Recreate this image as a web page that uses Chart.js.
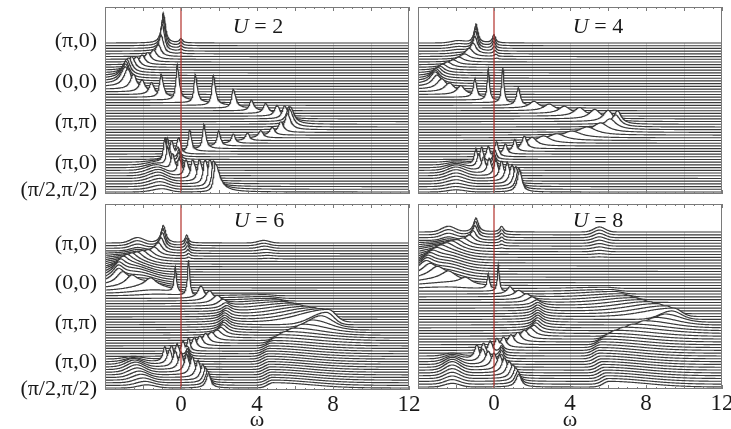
<!DOCTYPE html>
<html>
<head>
<meta charset="utf-8">
<title>Spectral function A(k,ω) along (π,0)–(0,0)–(π,π)–(π,0)–(π/2,π/2)</title>
<script src="https://cdn.jsdelivr.net/npm/chart.js@4.4.1/dist/chart.umd.min.js"></script>
<style>
  html, body { margin: 0; padding: 0; background: #fff; }
  body { width: 731px; height: 429px; position: relative; overflow: hidden; }
  canvas { position: absolute; }
  .ulab { position: absolute; font-family: "Liberation Serif", "DejaVu Serif", serif; font-size: 22px;
          color: #1a1a1a; transform: translate(-50%, -50%); white-space: nowrap; }
  .ulab i { font-style: italic; }
  .wlab { position: absolute; font-family: "Liberation Serif", "DejaVu Serif", serif; font-size: 22px;
          color: #1a1a1a; transform: translate(-50%, -50%); }
</style>
</head>
<body>
<canvas id="cU2" width="425" height="212" style="left:0;top:0"></canvas>
<canvas id="cU4" width="319" height="212" style="left:412px;top:0"></canvas>
<canvas id="cU6" width="425" height="229" style="left:0;top:200px"></canvas>
<canvas id="cU8" width="319" height="229" style="left:412px;top:200px"></canvas>
<div class="ulab" style="left:258px;top:26px"><i>U</i> = 2</div>
<div class="ulab" style="left:598px;top:26px"><i>U</i> = 4</div>
<div class="ulab" style="left:259px;top:220px"><i>U</i> = 6</div>
<div class="ulab" style="left:598px;top:220px"><i>U</i> = 8</div>
<div class="wlab" style="left:257px;top:419px">ω</div>
<div class="wlab" style="left:570px;top:419px">ω</div>
<script>
// ---- axes and k-path ----
const omegaMin = -4, omegaMax = 12;
const xTickValues = [0, 4, 8, 12];
const gridValues = [-2, 0, 2, 4, 6, 8, 10];
const kLabels = ['(π,0)', '(0,0)', '(π,π)', '(π,0)', '(π/2,π/2)'];
const kIndex = [0, 15, 30, 45, 55];
const nCurves = 56;          // spectra along the path, top to bottom

// ---- U = 2 : peak positions (ω), heights (in curve spacings), left / right half widths ----
const U2_A_pos = [-0.93,-0.93,-0.95,-0.98,-1.05,-1.2,-1.45,-1.75,-2.05,-2.35,-2.6,-2.75,-2.85,-2.9,-2.92,-2.93,
  -2.8,-2.5,-2.05,-1.55,-1.05,-0.2,0.75,1.7,2.75,3.7,4.45,5.05,5.45,5.68,5.75,
  5.72,5.6,5.25,4.8,4.2,3.5,2.76,1.98,1.2,0.45,-0.1,-0.5,-0.72,-0.82,-0.85,
  -0.7,-0.45,-0.1,0.25,0.6,0.95,1.25,1.5,1.7,1.8];
const U2_A_amp = [11.2,11.2,11,10,7,4.5,3.5,3.5,3.6,4,5,5.5,6,6.2,6.3,6.3,
  6.5,5.5,4.5,4.5,8.5,13,10.5,11,7,4,3.7,4,4.8,5.5,6.5,
  6.5,6,4,3,2.7,2.8,3.5,5.5,9,8,5,6,8,9,9,
  7,6,5.5,6,7,8,9,10,10.5,10.5];
const U2_A_wl = [0.12,0.12,0.12,0.13,0.15,0.18,0.2,0.2,0.2,0.22,0.22,0.24,0.26,0.28,0.28,0.28,
  0.25,0.2,0.18,0.15,0.1,0.08,0.08,0.09,0.1,0.12,0.15,0.15,0.15,0.15,0.15,
  0.15,0.15,0.15,0.15,0.15,0.13,0.12,0.1,0.08,0.08,0.1,0.1,0.1,0.1,0.1,
  0.1,0.1,0.1,0.1,0.1,0.1,0.1,0.1,0.1,0.1];
const U2_A_wr = [0.12,0.12,0.12,0.13,0.15,0.18,0.2,0.2,0.2,0.22,0.22,0.22,0.22,0.22,0.22,0.22,
  0.22,0.2,0.18,0.16,0.14,0.12,0.12,0.13,0.15,0.16,0.18,0.18,0.2,0.22,0.24,
  0.22,0.2,0.18,0.16,0.15,0.13,0.12,0.12,0.12,0.12,0.12,0.12,0.12,0.12,0.12,
  0.14,0.15,0.16,0.18,0.2,0.22,0.24,0.26,0.28,0.3];
const U2_B1_pos = [0, 0, 0, 0, 0];
const U2_B1_amp = [1.5, 1.3, 1, 0.7, 0.4];
const U2_B2_pos = [-0.2, -0.15, -0.1, -0.1, -0.05, 0, 0.05];
const U2_B2_amp = [2, 3, 3.5, 3.5, 3, 2, 1];
const U2_C2_pos = [-1.3, -1.3, -1.3, -1.3, -1.25, -1.2, -1.2, -1.15, -1.1, -1.1, -1.05, -1.0];
const U2_C2_amp = [0.5, 1, 1.5, 2, 2.2, 2.3, 2.3, 2.2, 2, 1.8, 1.5, 1.2];

// ---- U = 4 ----
const U4_A_pos = [-0.95,-0.95,-0.97,-1.0,-1.1,-1.3,-1.55,-1.85,-2.15,-2.45,-2.7,-2.85,-2.95,-3.05,-3.1,-3.1,
  -3.0,-2.75,-2.35,-1.75,-1.0,-0.3,0.46,1.28,2.1,2.9,3.7,4.5,5.3,6.0,6.5,
  6.4,6.1,5.6,4.9,4.1,3.3,2.6,2.0,1.6,1.1,0.6,0.15,-0.3,-0.65,-0.95,
  -0.8,-0.55,-0.25,0.1,0.4,0.7,0.95,1.15,1.3,1.35];
const U4_A_amp = [7,7,6.5,5.5,4,3,2,1.8,1.8,2,2.2,2.5,3,3.5,4,4.4,
  4.2,3.8,3.3,3.3,7,11.5,13,6.5,2.5,2.5,2.7,3.2,3.5,4.2,5,
  4.5,4,3.5,3,2.5,2.5,2.7,3.2,4.7,4.4,3.9,3.9,4.7,5.7,6.1,
  5,5,5.5,5.8,6.5,7,7.2,7.4,7.8,8];
const U4_A_wid = [0.12,0.12,0.13,0.15,0.2,0.25,0.3,0.3,0.3,0.3,0.3,0.3,0.3,0.3,0.3,0.3,
  0.3,0.3,0.3,0.25,0.1,0.07,0.07,0.12,0.3,0.35,0.35,0.35,0.35,0.3,0.25,
  0.3,0.4,0.5,0.6,0.6,0.55,0.45,0.3,0.15,0.12,0.12,0.12,0.12,0.1,0.1,
  0.12,0.12,0.12,0.13,0.13,0.14,0.15,0.15,0.15,0.15];
const U4_B1_pos = [0, 0, 0, 0.02, 0.05, 0.1, 0.15];
const U4_B1_amp = [3, 2.8, 2.4, 1.8, 1.2, 0.8, 0.4];
const U4_B2_pos = [0.1, 0.05, 0, 0, 0.05, 0.1, 0.2];
const U4_B2_amp = [2, 3, 3.5, 3.5, 3, 2, 1];
const U4_C1_pos = [-1.9, -1.9, -1.9, -1.9, -1.9, -1.9];
const U4_C1_amp = [0.8, 0.7, 0.6, 0.5, 0.3, 0.2];
const U4_C2_pos = [-2, -2, -2, -2, -2, -2, -2, -2, -2, -2, -2, -2];
const U4_C2_amp = [0.5, 1, 1.5, 2, 2.2, 2.2, 2, 1.8, 1.5, 1.2, 1, 0.8];

// ---- U = 6 ----
const U6_A_pos = [-0.93,-0.95,-0.98,-1.05,-1.2,-1.4,-1.7,-2.0,-2.3,-2.6,-2.85,-3.05,-3.2,-3.28,-3.3,-3.3,
  -3.1,-2.6,-1.6,-0.3,0.4,1.05,1.5,1.9,2.2,2.35,2.4,2.4,2.35,2.3,2.3,
  2.3,2.3,2.25,2.2,2.1,1.9,1.6,1.3,1.0,0.7,0.4,0.1,-0.2,-0.5,-0.85,
  -0.6,-0.3,0.0,0.3,0.6,0.9,1.15,1.3,1.4,1.45];
const U6_A_amp = [6.7,6.5,6,5,4,3,2.5,2.5,2.5,2.7,3,3.3,3.6,3.8,4,4,
  3.8,3.3,3,9.5,13.5,4.7,3.8,3,2.5,2.2,2.2,2.3,2.4,2.5,2.6,
  2.7,2.8,2.9,3,3,3,3.2,3.7,3.8,4.2,5,4.6,4.8,5.2,5.7,
  5.5,6,6.5,6.8,7,6.5,6,5.6,5.5,5.5];
const U6_A_wid = [0.15,0.15,0.17,0.2,0.25,0.3,0.35,0.35,0.35,0.35,0.35,0.35,0.35,0.35,0.35,0.35,
  0.35,0.35,0.35,0.07,0.07,0.2,0.25,0.3,0.3,0.3,0.3,0.3,0.3,0.3,0.3,
  0.3,0.3,0.3,0.3,0.3,0.3,0.25,0.2,0.18,0.15,0.1,0.12,0.12,0.12,0.12,
  0.15,0.15,0.15,0.15,0.15,0.15,0.15,0.15,0.15,0.15];
const U6_B1_pos = [0.3, 0.3, 0.32, 0.35, 0.37, 0.4, 0.4];
const U6_B1_amp = [2.9, 2.7, 2.4, 2, 1.5, 1, 0.6];
const U6_B2_pos = [0.35, 0.35, 0.35, 0.35, 0.35, 0.35, 0.35];
const U6_B2_amp = [2, 3, 4, 4, 3.5, 2.5, 1.5];
const U6_C1_pos = [-2.3, -2.3, -2.3, -2.3, -2.3, -2.3, -2.3];
const U6_C1_amp = [2, 1.8, 1.5, 1.2, 0.9, 0.6, 0.3];
const U6_C2_pos = [-2.5, -2.5, -2.5, -2.45, -2.4, -2.35, -2.3, -2.2, -2.1, -2.0, -1.9, -1.8];
const U6_C2_amp = [1, 1.5, 2.2, 2.6, 2.8, 2.8, 2.6, 2.4, 2.2, 1.8, 1.5, 1.2];
const U6_D_pos = [-2.4,-2.4,-2.5,-2.5,-2.6,-2.6,-2.6,-2.6,-2.5,-2.4,-2.3,-2.2,-2.0,-1.8,-1.6,-1.4,-1.2];
const U6_D_amp = [0.5,1,1.5,2,2.3,2.6,2.8,3,3,3,2.8,2.6,2.4,2.2,1.8,1.2,0.6];
const U6_H1_pos = [4.35, 4.35, 4.4, 4.45, 4.5, 4.55, 4.6];
const U6_H1_amp = [1, 0.9, 0.8, 0.6, 0.4, 0.3, 0.2];
const U6_H2_pos = [4.4,4.6,4.8,5.1,5.4,5.8,6.2,6.6,7.0,7.4,7.75,
  7.65,7.35,6.9,6.4,5.9,5.5,5.2,5.0,4.85,4.75,4.7,4.65,4.6,4.6,4.6,
  4.62,4.65,4.68,4.7,4.72,4.75,4.78,4.8,4.82,4.85];
const U6_H2_amp = [0.4,0.7,1.0,1.4,1.8,2.2,2.6,3.0,3.5,4.1,4.8,
  4.7,4.4,3.8,3.2,2.7,2.4,2.2,2.1,2.0,2.0,2.0,2.0,2.0,2.0,2.0,
  2,2,2,2,2,2,2,2,2,2];
const U6_H2_wl = [1.5,1.5,1.5,1.5,1.5,1.5,1.5,1.5,1.5,1.5,1.5,
  0.8,0.6,0.5,0.4,0.35,0.3,0.3,0.3,0.3,0.3,0.3,0.3,0.3,0.3,0.3,
  0.3,0.3,0.3,0.3,0.3,0.3,0.3,0.3,0.3,0.3];
const U6_H2_wr = [0.4,0.4,0.4,0.4,0.4,0.4,0.4,0.4,0.4,0.4,0.4,
  0.4,0.6,0.9,1.2,1.5,1.8,2,2,2,2,2,2,2,2,2,
  2,2,2,2,2,2,2,2,2,2];

// ---- U = 8 ----
const U8_A_pos = [-0.95,-0.97,-1.0,-1.1,-1.3,-1.6,-1.9,-2.2,-2.5,-2.8,-3.05,-3.25,-3.4,-3.5,-3.55,-3.6,
  -3.4,-3.0,-2.4,-1.5,-0.3,0.23,0.84,1.3,1.7,2.0,2.25,2.3,2.3,2.3,2.3,
  2.3,2.3,2.3,2.25,2.2,2.1,1.9,1.6,1.25,0.9,0.5,0.15,-0.2,-0.55,-0.9,
  -0.6,-0.3,0,0.3,0.55,0.8,1.0,1.15,1.25,1.3];
const U8_A_amp = [5,4.8,4.3,3.5,2.8,2.3,2,2,2,2.1,2.3,2.5,2.8,3,3.2,3.3,
  3.2,3,2.7,2.5,5.3,9.4,2.6,2.3,2.1,2,1.9,2,2.1,2.2,2.3,
  2.4,2.5,2.6,2.7,2.8,2.9,3,3.2,3.4,3.6,3.8,4,4.3,4.6,5,
  4.5,4.7,5,5.2,5.3,5.2,5,4.8,4.6,4.5];
const U8_A_wid = [0.15,0.15,0.17,0.2,0.3,0.4,0.45,0.45,0.45,0.45,0.45,0.45,0.45,0.45,0.45,0.45,
  0.45,0.45,0.45,0.4,0.07,0.06,0.2,0.3,0.3,0.3,0.3,0.3,0.3,0.3,0.3,
  0.3,0.3,0.3,0.3,0.3,0.3,0.3,0.25,0.22,0.2,0.18,0.15,0.15,0.15,0.15,
  0.18,0.18,0.18,0.18,0.18,0.18,0.18,0.18,0.18,0.18];
const U8_B1_pos = [0.4, 0.4, 0.4, 0.4, 0.4, 0.4, 0.4];
const U8_B1_amp = [2, 1.8, 1.5, 1.2, 0.9, 0.6, 0.3];
const U8_B2_pos = [0.4, 0.4, 0.4, 0.4, 0.4, 0.4, 0.4];
const U8_B2_amp = [1.5, 2.5, 3, 3, 2.5, 1.8, 1];
const U8_C1_pos = [-2.4, -2.4, -2.4, -2.4, -2.4, -2.4, -2.4];
const U8_C1_amp = [2, 1.8, 1.5, 1.2, 0.9, 0.6, 0.3];
const U8_C2_pos = [-2.2, -2.2, -2.2, -2.2, -2.2, -2.2, -2.2, -2.2, -2.2, -2.2, -2.2, -2.2];
const U8_C2_amp = [1, 1.5, 2, 2.5, 2.8, 3, 2.8, 2.5, 2.2, 1.9, 1.6, 1.3];
const U8_D_pos = [-2.5,-2.5,-2.5,-2.5,-2.5,-2.5,-2.5,-2.5,-2.5,-2.5,-2.5,-2.5,-2.5,-2.5,-2.5,-2.5,-2.5];
const U8_D_amp = [0.5,1,1.5,2,2.2,2.4,2.5,2.5,2.5,2.5,2.5,2.4,2.2,2,1.5,1,0.5];
const U8_H1_pos = [5.55, 5.55, 5.55, 5.55, 5.55, 5.55, 5.55, 5.55, 5.55, 5.55];
const U8_H1_amp = [1.8, 1.7, 1.5, 1.3, 1.1, 0.9, 0.7, 0.5, 0.3, 0.15];
const U8_H2_pos = [5.9,6.1,6.35,6.65,7.0,7.35,7.75,8.15,8.6,9.05,9.45,
  9.35,9.0,8.5,7.9,7.3,6.8,6.4,6.1,5.9,5.75,5.65,5.6,5.55,5.55,5.55,
  5.6,5.65,5.7,5.75,5.8,5.85,5.9,5.95,6.0,6.05];
const U8_H2_amp = [0.4,0.6,0.9,1.1,1.4,1.7,2.0,2.3,2.6,2.8,3.0,
  3,2.9,2.7,2.5,2.3,2.2,2.1,2.0,2.0,2.0,2.0,2.0,2.0,2.0,2.0,
  2,2,2,2,2,2,2,2,2,2];
const U8_H2_wl = [1.5,1.5,1.5,1.5,1.5,1.5,1.5,1.5,1.5,1.5,1.5,
  0.6,0.5,0.45,0.4,0.35,0.3,0.3,0.3,0.3,0.3,0.3,0.3,0.3,0.3,0.3,
  0.3,0.3,0.3,0.3,0.3,0.3,0.3,0.3,0.3,0.3];
const U8_H2_wr = [0.4,0.4,0.4,0.4,0.4,0.4,0.4,0.4,0.4,0.4,0.4,
  0.5,0.8,1.1,1.4,1.7,2,2,2,2,2,2,2,2,2,2,
  2,2,2,2,2,2,2,2,2,2];

// ---- band tables: start index on the path, line shape (L = Lorentzian, G = Gaussian), widths ----
const bandsU2 = [
  { start: 0,  shape: 'L', pos: U2_A_pos,  amp: U2_A_amp,  wl: U2_A_wl, wr: U2_A_wr },
  { start: 0,  shape: 'L', pos: U2_B1_pos, amp: U2_B1_amp, wl: 0.1, wr: 0.1 },
  { start: 41, shape: 'L', pos: U2_B2_pos, amp: U2_B2_amp, wl: 0.1, wr: 0.1 },
  { start: 44, shape: 'G', pos: U2_C2_pos, amp: U2_C2_amp, wl: 0.5, wr: 0.4 }
];
const bandsU4 = [
  { start: 0,  shape: 'L', pos: U4_A_pos,  amp: U4_A_amp,  wl: U4_A_wid, wr: U4_A_wid },
  { start: 0,  shape: 'L', pos: U4_B1_pos, amp: U4_B1_amp, wl: 0.1, wr: 0.1 },
  { start: 42, shape: 'L', pos: U4_B2_pos, amp: U4_B2_amp, wl: 0.1, wr: 0.1 },
  { start: 0,  shape: 'G', pos: U4_C1_pos, amp: U4_C1_amp, wl: 0.35, wr: 0.35 },
  { start: 44, shape: 'G', pos: U4_C2_pos, amp: U4_C2_amp, wl: 0.45, wr: 0.45 }
];
const bandsU6 = [
  { start: 0,  shape: 'L', pos: U6_A_pos,  amp: U6_A_amp,  wl: U6_A_wid, wr: U6_A_wid },
  { start: 0,  shape: 'L', pos: U6_B1_pos, amp: U6_B1_amp, wl: 0.1, wr: 0.1 },
  { start: 42, shape: 'L', pos: U6_B2_pos, amp: U6_B2_amp, wl: 0.1, wr: 0.1 },
  { start: 0,  shape: 'G', pos: U6_C1_pos, amp: U6_C1_amp, wl: 0.35, wr: 0.35 },
  { start: 44, shape: 'G', pos: U6_C2_pos, amp: U6_C2_amp, wl: 0.45, wr: 0.45 },
  { start: 4,  shape: 'G', pos: U6_D_pos,  amp: U6_D_amp,  wl: 1.0, wr: 0.8 },
  { start: 0,  shape: 'G', pos: U6_H1_pos, amp: U6_H1_amp, wl: 0.3, wr: 0.3 },
  { start: 20, shape: 'G', pos: U6_H2_pos, amp: U6_H2_amp, wl: U6_H2_wl, wr: U6_H2_wr }
];
const bandsU8 = [
  { start: 0,  shape: 'L', pos: U8_A_pos,  amp: U8_A_amp,  wl: U8_A_wid, wr: U8_A_wid },
  { start: 0,  shape: 'L', pos: U8_B1_pos, amp: U8_B1_amp, wl: 0.12, wr: 0.12 },
  { start: 42, shape: 'L', pos: U8_B2_pos, amp: U8_B2_amp, wl: 0.12, wr: 0.12 },
  { start: 0,  shape: 'G', pos: U8_C1_pos, amp: U8_C1_amp, wl: 0.35, wr: 0.35 },
  { start: 44, shape: 'G', pos: U8_C2_pos, amp: U8_C2_amp, wl: 0.4, wr: 0.4 },
  { start: 4,  shape: 'G', pos: U8_D_pos,  amp: U8_D_amp,  wl: 1.2, wr: 0.8 },
  { start: 0,  shape: 'G', pos: U8_H1_pos, amp: U8_H1_amp, wl: 0.3, wr: 0.3 },
  { start: 20, shape: 'G', pos: U8_H2_pos, amp: U8_H2_amp, wl: U8_H2_wl, wr: U8_H2_wr }
];

// ---- styling ----
const lineColor = '#3a3a3a';
const fermiColor = '#b3302a';
const frameColor = '#7a7a7a';
const serif = "'Liberation Serif', 'DejaVu Serif', serif";

function lineShape(shape, u) {
  return shape === 'G' ? Math.exp(-0.5 * u * u) : 1 / (1 + u * u);
}
function widthAt(w, j) { return Array.isArray(w) ? w[j] : w; }

// spectral weight of curve i at energy w, summed over bands
function spectrum(bands, i, w) {
  let s = 0;
  for (const b of bands) {
    const j = i - b.start;
    if (j < 0 || j >= b.pos.length) continue;
    const p = b.pos[j], a = b.amp[j];
    if (p == null || !a) continue;
    const d = w - p;
    const g = d < 0 ? widthAt(b.wl, j) : widthAt(b.wr, j);
    s += a * lineShape(b.shape, d / g);
  }
  return s;
}

// energy grid for one curve, including its peak centres so tips are resolved
function energyGrid(bands, i) {
  const xs = [];
  for (let k = 0; k <= 800; k++) xs.push(omegaMin + k * 0.02);
  for (const b of bands) {
    const j = i - b.start;
    if (j >= 0 && j < b.pos.length && b.pos[j] != null) xs.push(b.pos[j]);
  }
  xs.sort((a, b) => a - b);
  return xs;
}

// frame, inward ticks and faint vertical guides
const panelDeco = {
  id: 'panelDeco',
  beforeDatasetsDraw(chart) {
    const { ctx, chartArea: a, scales: { x, y } } = chart;
    const yTop = y.getPixelForValue(nCurves - 1);
    ctx.save();
    ctx.strokeStyle = 'rgba(70,70,70,0.2)';
    ctx.lineWidth = 1;
    for (const v of gridValues) {
      const px = Math.round(x.getPixelForValue(v)) + 0.5;
      ctx.beginPath(); ctx.moveTo(px, yTop); ctx.lineTo(px, a.bottom); ctx.stroke();
    }
    ctx.restore();
  },
  afterDatasetsDraw(chart) {
    const { ctx, chartArea: a, scales: { x } } = chart;
    ctx.save();
    ctx.strokeStyle = frameColor;
    ctx.lineWidth = 1;
    for (let k = 0; k <= 32; k++) {
      const v = omegaMin + k * 0.5;
      const len = (k % 4 === 0) ? 4 : 2;
      const px = Math.round(x.getPixelForValue(v)) + 0.5;
      ctx.beginPath();
      ctx.moveTo(px, a.top); ctx.lineTo(px, a.top + len);
      ctx.moveTo(px, a.bottom); ctx.lineTo(px, a.bottom - len);
      ctx.stroke();
    }
    ctx.strokeRect(Math.round(a.left) + 0.5, Math.round(a.top) + 0.5,
                   Math.round(a.right - a.left) - 1, Math.round(a.bottom - a.top) - 1);
    ctx.restore();
  }
};

function makePanel(id, bands, L) {
  const datasets = [];
  for (let i = 0; i < nCurves; i++) {
    const base = nCurves - 1 - i;
    const pts = energyGrid(bands, i).map(w => ({ x: w, y: base + spectrum(bands, i, w) }));
    datasets.push({
      data: pts,
      order: nCurves - i,                // curves nearer the bottom are drawn over those above
      borderColor: lineColor,
      borderWidth: 1.15,
      backgroundColor: '#ffffff',
      fill: { value: base },
      pointRadius: 0,
      tension: 0
    });
  }
  // Fermi level
  datasets.push({
    data: [{ x: 0, y: L.yMin }, { x: 0, y: L.yMax }],
    order: 0, borderColor: fermiColor, borderWidth: 1.2, fill: false, pointRadius: 0
  });

  new Chart(document.getElementById(id), {
    type: 'line',
    data: { datasets },
    plugins: [panelDeco],
    options: {
      responsive: false, animation: false, events: [], devicePixelRatio: 1,
      parsing: false, normalized: true,
      layout: { padding: L.padding },
      plugins: { legend: { display: false }, tooltip: { enabled: false } },
      scales: {
        x: {
          type: 'linear', min: omegaMin, max: omegaMax, display: L.showX,
          grid: { display: false, drawTicks: false }, border: { display: false },
          afterBuildTicks: s => { s.ticks = xTickValues.map(v => ({ value: v })); },
          afterFit: s => { if (L.showX) s.height = L.xHeight; s.paddingLeft = 0; s.paddingRight = 0; },
          ticks: { autoSkip: false, maxRotation: 0, padding: 1, color: '#1a1a1a',
                   font: { family: serif, size: 23 }, callback: v => String(v) }
        },
        y: {
          type: 'linear', min: L.yMin, max: L.yMax, display: L.showY,
          grid: { display: false, drawTicks: false }, border: { display: false },
          afterBuildTicks: s => { s.ticks = kIndex.map(k => ({ value: nCurves - 1 - k + L.labelShift })); },
          afterFit: s => { if (L.showY) s.width = 105; s.paddingTop = 0; s.paddingBottom = 0; },
          ticks: { autoSkip: false, padding: 8, color: '#1a1a1a',
                   font: { family: serif, size: 22 }, callback: (v, idx) => kLabels[idx] }
        }
      }
    }
  });
}

makePanel('cU2', bandsU2, { yMin: -0.74, yMax: 68.3, showX: false, showY: true, labelShift: 0.6,
  padding: { left: 0, top: 7, right: 16, bottom: 18 } });
makePanel('cU4', bandsU4, { yMin: -0.74, yMax: 68.3, showX: false, showY: false, labelShift: 0,
  padding: { left: 6, top: 7, right: 9, bottom: 18 } });
makePanel('cU6', bandsU6, { yMin: -0.76, yMax: 69.8, showX: true, showY: true, labelShift: -0.3, xHeight: 39,
  padding: { left: 0, top: 4, right: 16, bottom: 0 } });
makePanel('cU8', bandsU8, { yMin: -0.71, yMax: 64.94, showX: true, showY: false, labelShift: 0, xHeight: 40,
  padding: { left: 6, top: 4, right: 9, bottom: 0 } });
</script>
</body>
</html>
